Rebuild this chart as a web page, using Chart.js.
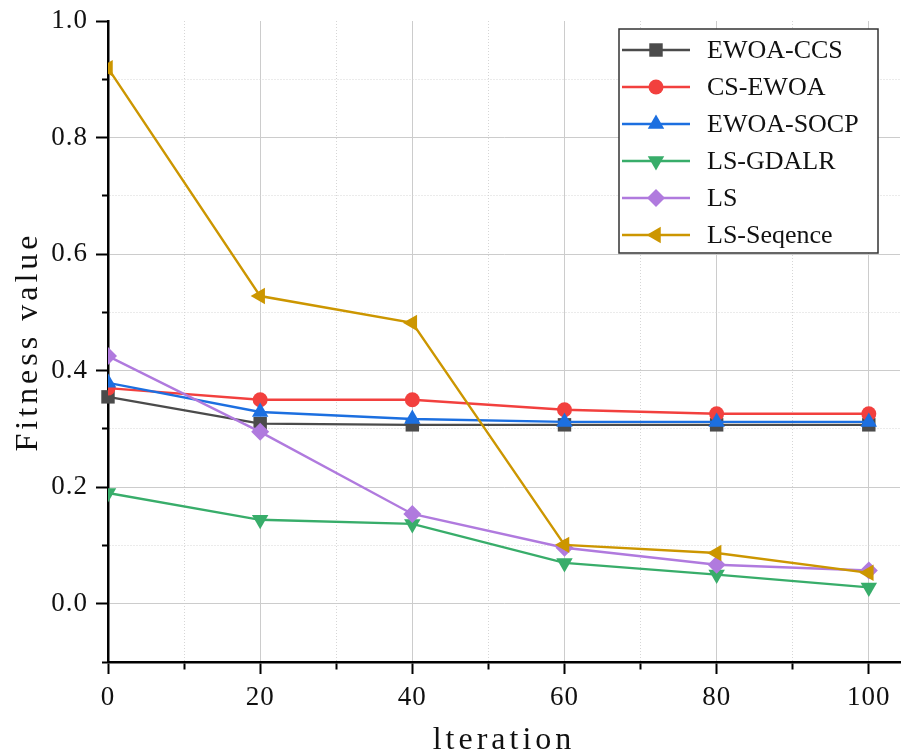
<!DOCTYPE html>
<html>
<head>
<meta charset="utf-8">
<script src="https://cdn.jsdelivr.net/npm/chart.js@4/dist/chart.umd.min.js"></script>
<style>
  html, body { margin: 0; padding: 0; background: #fff; }
  #wrap { width: 901px; height: 756px; }
  canvas { display: block; }
</style>
</head>
<body>
<div id="wrap"><canvas id="chart"></canvas></div>
<script>
// data
const iterations = [0, 20, 40, 60, 80, 100];
const seriesNames = ['EWOA-CCS', 'CS-EWOA', 'EWOA-SOCP', 'LS-GDALR', 'LS', 'LS-Seqence'];
const ewoaCcs   = [0.355, 0.309, 0.307, 0.307, 0.307, 0.307];
const csEwoa    = [0.370, 0.350, 0.350, 0.333, 0.326, 0.326];
const ewoaSocp  = [0.379, 0.329, 0.317, 0.312, 0.312, 0.312];
const lsGdalr   = [0.190, 0.144, 0.137, 0.070, 0.050, 0.028];
const ls        = [0.425, 0.295, 0.154, 0.096, 0.067, 0.057];
const lsSeqence = [0.919, 0.528, 0.482, 0.101, 0.087, 0.053];
const xTickLabels = ['0', '20', '40', '60', '80', '100'];
const yTickLabels = ['0.0', '0.2', '0.4', '0.6', '0.8', '1.0'];

const seriesValues = [ewoaCcs, csEwoa, ewoaSocp, lsGdalr, ls, lsSeqence];
const seriesStyles = [
    { color: '#4b4b4b', point: 'rect',     radius: 9.5, rotation: 0 },
    { color: '#f2403e', point: 'circle',   radius: 7.5, rotation: 0 },
    { color: '#1c6fe0', point: 'triangle', radius: 9.5, rotation: 0 },
    { color: '#38ad6a', point: 'triangle', radius: 9.5, rotation: 180 },
    { color: '#b07ade', point: 'rectRot',  radius: 9,   rotation: 0 },
    { color: '#cc9600', point: 'triangle', radius: 9.5, rotation: 270 }
];

const FONT = "'Liberation Serif', 'Times New Roman', serif";

const datasets = seriesNames.map((name, i) => ({
    label: name,
    data: iterations.map((x, j) => ({ x: x, y: seriesValues[i][j] })),
    borderColor: seriesStyles[i].color,
    backgroundColor: seriesStyles[i].color,
    borderWidth: 2.4,
    pointStyle: seriesStyles[i].point,
    pointRadius: seriesStyles[i].radius,
    pointRotation: seriesStyles[i].rotation,
    pointBorderWidth: 0,
    pointBackgroundColor: seriesStyles[i].color,
    tension: 0,
    clip: i === 0 ? false : 0,
    order: seriesNames.length - i   // later series drawn on top
}));

// text spacing: wide for the axis titles, tight for tick labels
const spacingPlugin = {
    id: 'spacing',
    beforeDraw(chart) { chart.ctx.letterSpacing = '4px'; },
    beforeDatasetsDraw(chart) { chart.ctx.letterSpacing = '1px'; }
};

// Origin-style legend: line with marker in the middle, framed box
const boxLegend = {
    id: 'boxLegend',
    afterDraw(chart) {
        const ctx = chart.ctx;
        const area = chart.chartArea;
        const bx = area.right - 281, by = area.top + 8, bw = 259, bh = 224, rowH = 37;
        ctx.save();
        ctx.letterSpacing = '0px';
        ctx.fillStyle = '#ffffff';
        ctx.fillRect(bx, by, bw, bh);
        ctx.strokeStyle = '#333333';
        ctx.lineWidth = 1.5;
        ctx.strokeRect(bx, by, bw, bh);
        chart.data.datasets.forEach((ds, i) => {
            const y = by + 21 + i * rowH;
            ctx.strokeStyle = ds.borderColor;
            ctx.lineWidth = 2.5;
            ctx.beginPath();
            ctx.moveTo(bx + 3, y);
            ctx.lineTo(bx + 71, y);
            ctx.stroke();
            ctx.fillStyle = ds.borderColor;
            if (Chart.helpers && Chart.helpers.drawPoint) {
                Chart.helpers.drawPoint(ctx, {
                    pointStyle: ds.pointStyle, rotation: ds.pointRotation,
                    radius: ds.pointRadius, borderWidth: 0
                }, bx + 37, y);
            } else {
                ctx.beginPath();
                ctx.arc(bx + 37, y, ds.pointRadius, 0, Math.PI * 2);
                ctx.fill();
            }
            ctx.fillStyle = '#111111';
            ctx.font = '26px ' + FONT;
            ctx.textBaseline = 'middle';
            ctx.textAlign = 'left';
            ctx.fillText(ds.label, bx + 88, y + 1);
        });
        ctx.restore();
    }
};

const isMinorY = (v) => Math.abs(Math.round(v * 10)) % 2 === 1;
const isMinorX = (v) => Math.round(v / 10) % 2 === 1;

new Chart(document.getElementById('chart'), {
    type: 'line',
    data: { datasets: datasets },
    options: {
        responsive: true,
        maintainAspectRatio: false,
        animation: false,
        devicePixelRatio: 1,
        layout: { autoPadding: false, padding: { top: 21, right: 1, left: 0, bottom: 0 } },
        plugins: { legend: { display: false }, tooltip: { enabled: false } },
        scales: {
            x: {
                type: 'linear',
                min: 0,
                max: 104.1,
                bounds: 'data',
                afterFit: (scale) => {
                    scale.height = 94;
                    scale.paddingLeft = 0;
                    scale.paddingRight = 0;
                },
                ticks: {
                    stepSize: 10,
                    includeBounds: false,
                    autoSkip: false,
                    maxRotation: 0,
                    padding: 8,
                    z: 1,
                    color: '#111',
                    font: { family: FONT, size: 27 },
                    callback: (v) => xTickLabels.includes(String(Math.round(v))) && !isMinorX(v) ? String(Math.round(v)) : ''
                },
                grid: {
                    color: (c) => c.tick ? (isMinorX(c.tick.value) ? '#d6d6d6' : '#cccccc') : '#cccccc',
                    lineWidth: 1,
                    tickLength: 12,
                    tickWidth: 2,
                    tickColor: '#000',
                    tickBorderDash: (c) => c.tick && isMinorX(c.tick.value) ? [6, 30] : []
                },
                border: {
                    color: '#000', width: 2.5,
                    dash: (c) => c.tick && isMinorX(c.tick.value) ? [1, 2] : []
                },
                title: {
                    display: true,
                    text: 'lteration',
                    color: '#111',
                    font: { family: FONT, size: 32, lineHeight: 0.9 },
                    padding: { top: 0, bottom: 1 }
                }
            },
            y: {
                type: 'linear',
                min: -0.1,
                max: 1.0,
                bounds: 'data',
                afterFit: (scale) => {
                    scale.width = 108;
                    scale.paddingTop = 0;
                    scale.paddingBottom = 0;
                },
                ticks: {
                    stepSize: 0.1,
                    maxTicksLimit: 20,
                    autoSkip: false,
                    padding: 8,
                    z: 1,
                    color: '#111',
                    font: { family: FONT, size: 27 },
                    callback: (v) => {
                        const s = (Math.round(v * 10) / 10).toFixed(1);
                        return yTickLabels.includes(s) ? s : '';
                    }
                },
                grid: {
                    color: (c) => {
                        if (!c.tick) return '#cccccc';
                        if (Math.round(c.tick.value * 10) === 10) return 'rgba(0,0,0,0)';
                        return isMinorY(c.tick.value) ? '#d6d6d6' : '#cccccc';
                    },
                    lineWidth: 1,
                    tickLength: 12,
                    tickWidth: 2,
                    tickColor: '#000',
                    tickBorderDash: (c) => c.tick && isMinorY(c.tick.value) ? [0, 6, 10, 30] : []
                },
                border: {
                    color: '#000', width: 2.5,
                    dash: (c) => c.tick && isMinorY(c.tick.value) ? [1, 2] : []
                },
                title: {
                    display: true,
                    text: 'Fitness value',
                    color: '#111',
                    font: { family: FONT, size: 32, lineHeight: 1 },
                    padding: { top: 13, bottom: 0 }
                }
            }
        }
    },
    plugins: [spacingPlugin, boxLegend]
});
</script>
</body>
</html>
